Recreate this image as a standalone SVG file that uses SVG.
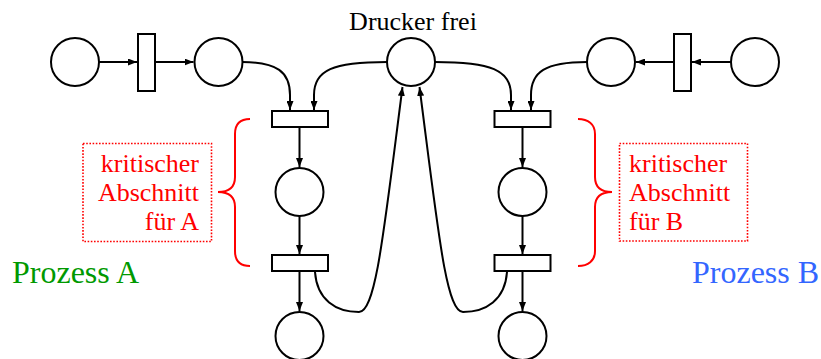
<svg xmlns="http://www.w3.org/2000/svg" width="821" height="359" viewBox="0 0 821 359">
<style>
.p{fill:#fff;stroke:#000;stroke-width:2}
.t{fill:#fff;stroke:#000;stroke-width:2}
.c{fill:none;stroke:#000;stroke-width:2}
.a{marker-end:url(#ah)}
.txt{font-family:"Liberation Serif","Times New Roman",serif}
.red{fill:#ff0000;font-size:26px}
.brace{fill:none;stroke:#ff0000;stroke-width:2}
.box{fill:none;stroke:#ff0000;stroke-width:1.6;stroke-dasharray:1.6 1.6}
</style>
<defs>
<marker id="ah" markerUnits="userSpaceOnUse" markerWidth="9" markerHeight="7" viewBox="0 0 9 7" refX="9" refY="3.5" orient="auto">
<path d="M0,0 L9,3.5 L0,7 z" fill="#000"/>
</marker>
</defs>
<rect width="821" height="359" fill="#fff"/>

<g id="connectors">
<path class="c a" d="M99,62 L137,62"/>
<path class="c a" d="M155,62 L193.5,62"/>
<path class="c a" d="M242.5,62 C277,62 290,72 290,95 L290,110"/>
<path class="c a" d="M387,62 C333,62 314,70 314,95 L314,110"/>
<path class="c a" d="M435,62 C491,62 511,70 511,95 L511,110"/>
<path class="c a" d="M587,62 C545,62 531,72 531,95 L531,110"/>
<path class="c a" d="M731,62 L692,62"/>
<path class="c a" d="M674,62 L636,62"/>
<path class="c a" d="M299.5,127 L299.5,167"/>
<path class="c a" d="M299.5,216 L299.5,254"/>
<path class="c a" d="M299.5,271 L299.5,311"/>
<path class="c a" d="M522.5,127 L522.5,167"/>
<path class="c a" d="M522.5,216 L522.5,254"/>
<path class="c a" d="M522.5,271 L522.5,311"/>
<path class="c a" d="M315,272 C317,300 336,312 359,312 C376,312 384,230 402.5,87"/>
<path class="c a" d="M507,272 C505,300 486,312 463,312 C446,312 438,230 419.5,87"/>
</g>

<g id="pA1"><circle class="p" cx="75" cy="62" r="24"/></g>
<g id="tA0"><rect class="t" x="138" y="34" width="17" height="57"/></g>
<g id="pA2"><circle class="p" cx="218.5" cy="62" r="24"/></g>
<g id="tA1"><rect class="t" x="272" y="111" width="56" height="16"/></g>
<g id="pA3"><circle class="p" cx="299.5" cy="192" r="24"/></g>
<g id="tA2"><rect class="t" x="272" y="255" width="56" height="16"/></g>
<g id="pA4"><circle class="p" cx="299.5" cy="336" r="24"/></g>

<g id="pDrucker"><circle class="p" cx="411" cy="62" r="24"/>
<text class="txt" x="413" y="30" font-size="26" text-anchor="middle" fill="#000">Drucker frei</text></g>

<g id="pB1"><circle class="p" cx="755" cy="62" r="24"/></g>
<g id="tB0"><rect class="t" x="674" y="34" width="17" height="57"/></g>
<g id="pB2"><circle class="p" cx="611" cy="62" r="24"/></g>
<g id="tB1"><rect class="t" x="494.5" y="111" width="56" height="16"/></g>
<g id="pB3"><circle class="p" cx="522.5" cy="192" r="24"/></g>
<g id="tB2"><rect class="t" x="494.5" y="255" width="56" height="16"/></g>
<g id="pB4"><circle class="p" cx="522.5" cy="336" r="24"/></g>

<g id="critA">
<path class="brace" d="M250,119 C240,119 235,124 235,134 L235,177 C235,187 229,192 218,192 C229,192 235,197 235,207 L235,251 C235,261 240,266 250,266"/>
<rect class="box" x="83" y="143.5" width="128.5" height="98"/>
<text class="txt red" text-anchor="end"><tspan x="199" y="171.5">kritischer</tspan><tspan x="199" y="200.5">Abschnitt</tspan><tspan x="199" y="229.5">für A</tspan></text>
</g>
<g id="critB">
<path class="brace" d="M578,119 C588,119 595,124 595,134 L595,177 C595,187 601,192 612,192 C601,192 595,197 595,207 L595,251 C595,261 588,266 578,266"/>
<rect class="box" x="619.5" y="143.5" width="128" height="97.5"/>
<text class="txt red"><tspan x="629" y="171.5">kritischer</tspan><tspan x="629" y="200.5">Abschnitt</tspan><tspan x="629" y="229.5">für B</tspan></text>
</g>

<g id="labels">
<text class="txt" x="12" y="282.5" font-size="32" fill="#009900">Prozess A</text>
<text class="txt" x="692" y="282.5" font-size="32" fill="#3366ff">Prozess B</text>
</g>
</svg>
